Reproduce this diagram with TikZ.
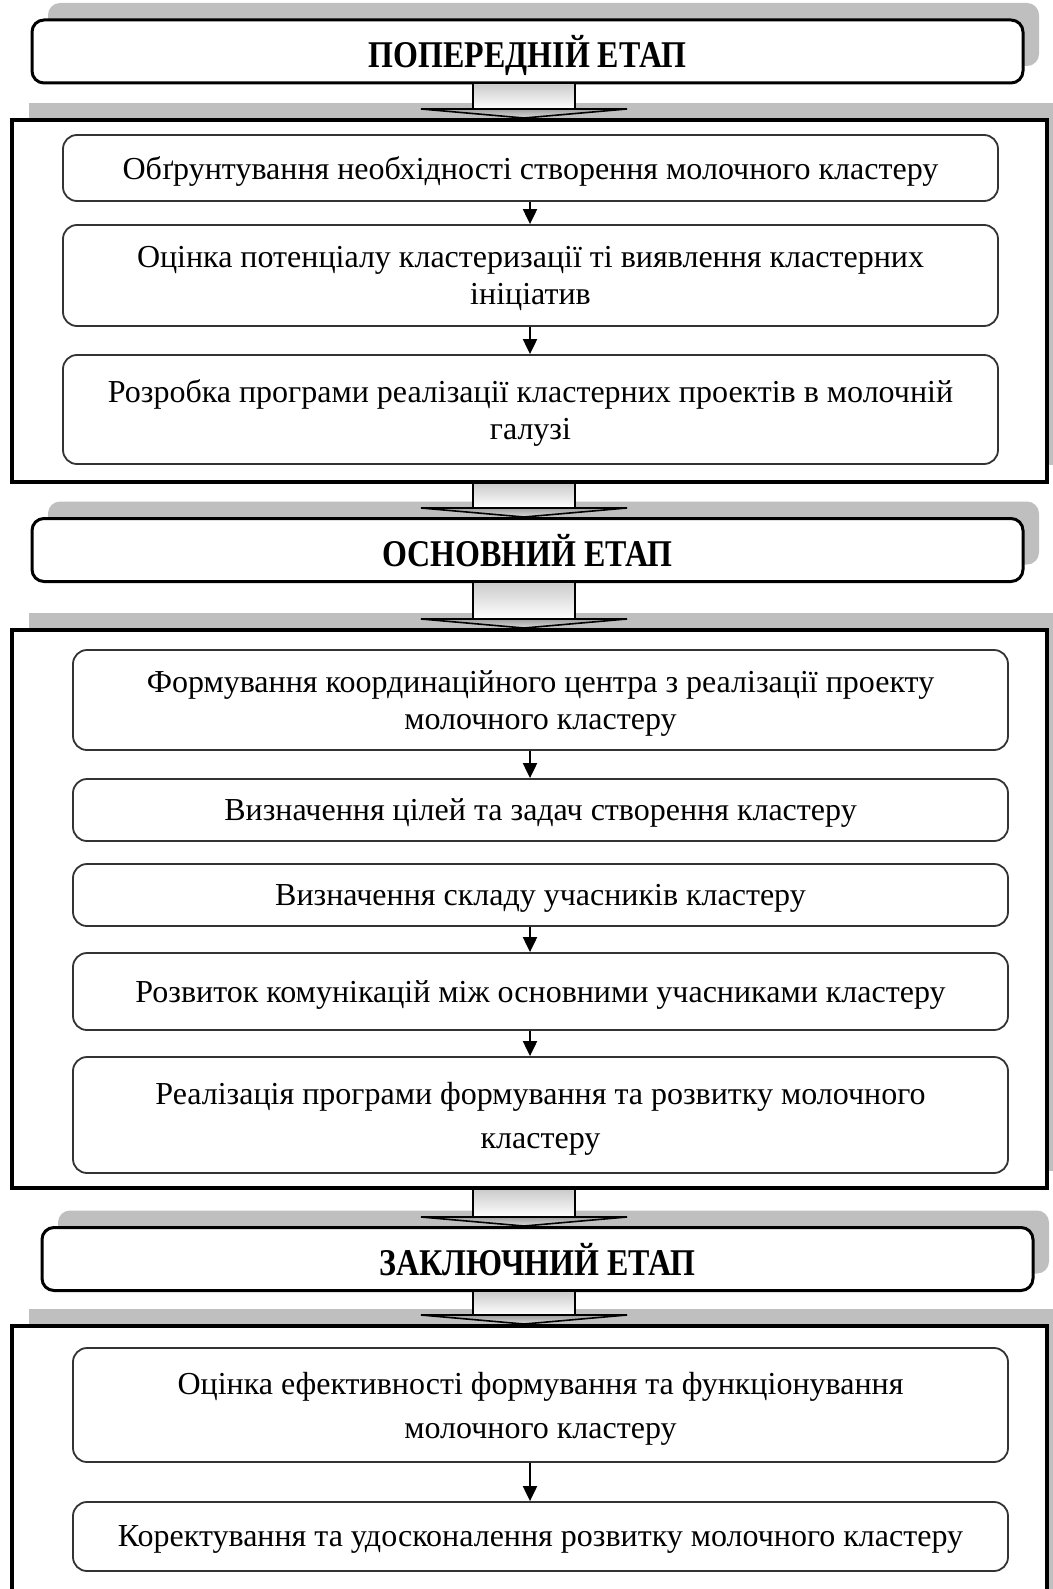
\documentclass[tikz,border=0pt]{standalone}
\usepackage{graphicx}
\usepackage{fontspec}
\setmainfont{Liberation Serif}
\usetikzlibrary{arrows.meta,calc,shadows}

\begin{document}
\begin{tikzpicture}[x=0.5pt, y=-0.5pt,
  stage/.style={draw, line width=1.5pt, rounded corners=6pt, fill=white,
    minimum width=495.5pt, minimum height=31.5pt, text depth=0pt,
    font=\fontsize{16}{18}\selectfont\bfseries,
    drop shadow={shadow xshift=8pt, shadow yshift=8.5pt, opacity=1, fill=gray!50}},
  stageframe/.style={draw, line width=2pt, fill=white, minimum width=517.5pt,
    drop shadow={shadow xshift=8.5pt, shadow yshift=8.5pt, opacity=1, fill=gray!50}},
  item/.style={draw=black!80, line width=0.9pt, rounded corners=7pt, fill=white,
    minimum width=467.5pt, inner sep=2pt, align=center, text depth=0pt,
    font=\fontsize{16}{18.5}\selectfont},
  wide/.style={font=\fontsize{16}{22}\selectfont},
  link/.style={line width=1pt, -{Triangle[length=7.5pt,width=7pt]}}]
\clip (0,0) rectangle (1053,1589);
\coordinate (ax) at (530,0);
\coordinate (bx) at (524,0);

\node[stage] (h1) at (527.5,51.5) {\scalebox{1}[1.18]{ПОПЕРЕДНІЙ ЕТАП}};
\node[stageframe, minimum height=181pt] (f1) at (529.5,301) {};
\node[item, minimum height=33pt] (a) at (530.5,168) {Обґрунтування необхідності створення молочного кластеру};
\node[item, minimum height=50.5pt] (b) at (530.5,275.5) {Оцінка потенціалу кластеризації ті виявлення кластерних\\ініціатив};
\node[item, minimum height=54.5pt] (c) at (530.5,409.5) {Розробка програми реалізації кластерних проектів в молочній\\галузі};

\node[stage] (h2) at (527.5,550) {\scalebox{1}[1.18]{ОСНОВНИЙ ЕТАП}};
\node[stageframe, minimum height=279pt] (f2) at (529.5,909) {};
\node[item, minimum height=50pt] (d) at (540.5,700) {Формування координаційного центра з реалізації проекту\\молочного кластеру};
\node[item, minimum height=31pt] (e) at (540.5,810) {Визначення цілей та задач створення кластеру};
\node[item, minimum height=31pt] (f) at (540.5,895) {Визначення складу учасників кластеру};
\node[item, minimum height=38.5pt] (g) at (540.5,991.5) {Розвиток комунікацій між основними учасниками кластеру};
\node[item, wide, minimum height=58pt] (h) at (540.5,1115) {Реалізація програми формування та розвитку молочного\\кластеру};

\node[stage] (h3) at (537.5,1259) {\scalebox{1}[1.18]{ЗАКЛЮЧНИЙ ЕТАП}};
\node[stageframe, minimum height=157pt] (f3) at (529.5,1483) {};
\node[item, wide, minimum height=57pt] (i) at (540.5,1405) {Оцінка ефективності формування та функціонування\\молочного кластеру};
\node[item, minimum height=34.5pt] (j) at (540.5,1536.5) {Коректування та удосконалення розвитку молочного кластеру};

\foreach \s/\t in {a/b, b/c, d/e, f/g, g/h, i/j}
  \draw[link] (\s.south -| ax) -- (\t.north -| ax);

% block arrows between the stages
\foreach \s/\t in {h1/f1, f1/h2, h2/f2, f2/h3, h3/f3} {
  \path (\s.south -| bx) coordinate (p) (\t.north -| bx) coordinate (q);
  \shade[top color=gray!40, bottom color=white] ($(p)+(-51,0)$) rectangle ($(q)+(51,-9)$);
  \draw[line width=1pt] ($(p)+(-51,0)$) -- ($(q)+(-51,-9)$) ($(p)+(51,0)$) -- ($(q)+(51,-9)$);
  \shade[top color=gray!75, bottom color=gray!30, draw=black, line width=0.8pt]
    ($(q)+(-103,-9)$) -- ($(q)+(103,-9)$) -- (q) -- cycle;
}
\end{tikzpicture}
\end{document}
